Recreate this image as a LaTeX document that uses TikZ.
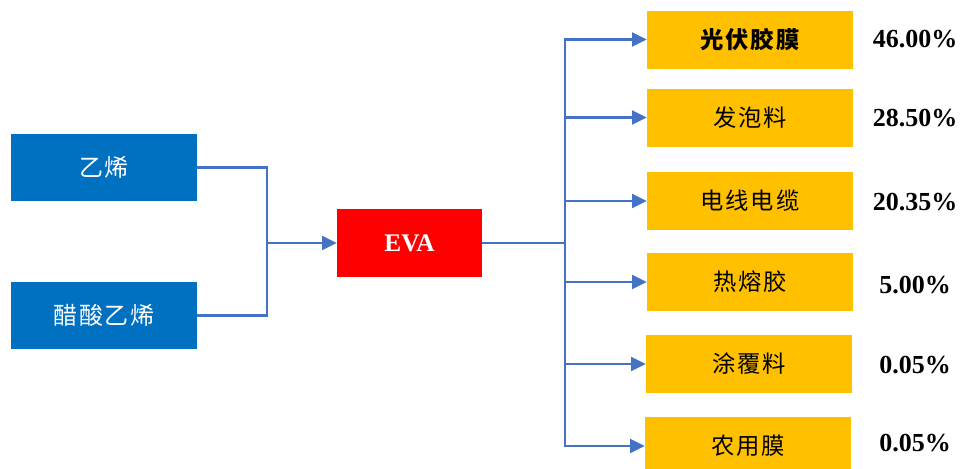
\documentclass[tikz,border=0pt]{standalone}
\usepackage{fontspec}
\setmainfont{Liberation Serif}
\newfontfamily\cjk[LetterSpace=8]{Noto Sans CJK SC}
\usetikzlibrary{arrows.meta}
\definecolor{srcblue}{HTML}{0070C0}
\definecolor{evared}{HTML}{FF0000}
\definecolor{useamber}{HTML}{FFC000}
\definecolor{linkblue}{HTML}{4472C4}
\tikzset{
  srcbox/.style={fill=srcblue, text=white, minimum width=186*0.75pt, minimum height=67*0.75pt,
    inner sep=0pt, font=\cjk\fontsize{18}{20}\selectfont},
  evabox/.style={fill=evared, text=white, minimum width=145*0.75pt, minimum height=68*0.75pt,
    inner sep=0pt, font=\fontsize{19}{22}\selectfont\bfseries},
  usebox/.style={fill=useamber, text=black, minimum width=206*0.75pt, minimum height=58*0.75pt,
    inner sep=0pt, font=\cjk\fontsize{17.5}{20}\selectfont},
  pct/.style={font=\fontsize{19.5}{22}\selectfont\bfseries, inner sep=0pt},
  link/.style={draw=linkblue, line width=1.6pt},
  flow/.style={link, -{Triangle[length=11pt, width=10.5pt]}}
}
\begin{document}
\begin{tikzpicture}[x=0.75pt, y=-0.75pt]
  \useasboundingbox (0,0) rectangle (962,468);
  \clip (0,0) rectangle (962,468);

  % raw materials
  \node[srcbox] (eth) at (104,167.5) {乙烯};
  \node[srcbox] (vac) at (104,315.5) {醋酸乙烯};

  % product
  \node[evabox] (eva) at (409.5,243) {EVA};

  % downstream uses
  \node[usebox] (u1) at (750,39.5)  {\bfseries 光伏胶膜};
  \node[usebox] (u2) at (750,117.5) {发泡料};
  \node[usebox] (u3) at (750,201)   {电线电缆};
  \node[usebox] (u4) at (750,282)   {热熔胶};
  \node[usebox] (u5) at (749,364)   {涂覆料};
  \node[usebox] (u6) at (748,446)   {农用膜};

  % shares
  \node[pct] (p1) at (915,39)  {46.00\%};
  \node[pct] (p2) at (915,118) {28.50\%};
  \node[pct] (p3) at (915,202) {20.35\%};
  \node[pct] (p4) at (915,285) {5.00\%};
  \node[pct] (p5) at (915,365) {0.05\%};
  \node[pct] (p6) at (915,443) {0.05\%};

  % merge of the two feeds
  \coordinate (mrg) at (267,243);
  \draw[link] (eth.east) -| (mrg);
  \draw[link] (vac.east) -| (mrg);
  \draw[flow] (mrg) -- (eva.west);

  % split to the uses
  \coordinate (spl) at (565,243);
  \draw[link] (eva.east) -- (spl);
  \foreach \u in {u1,u2,u3,u4,u5,u6}
    \draw[flow] (spl) |- (\u.west);
\end{tikzpicture}
\end{document}
